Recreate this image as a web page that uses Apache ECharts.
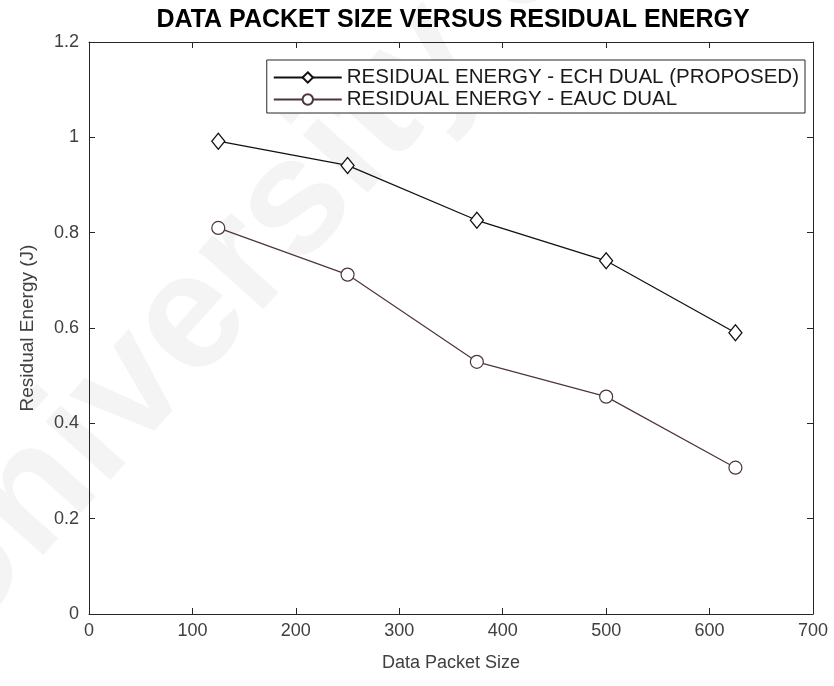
<!DOCTYPE html>
<html>
<head>
<meta charset="utf-8">
<title>Data Packet Size versus Residual Energy</title>
<script src="https://cdn.jsdelivr.net/npm/echarts@6/dist/echarts.min.js"></script>
<style>
  html, body { margin: 0; padding: 0; background: #ffffff; }
  #chart { width: 834px; height: 686px; }
</style>
</head>
<body>
<div id="chart"></div>
<script>
// Packet sizes on the x axis
const packetSizes = [125, 250, 375, 500, 625];
// Residual energy (J) per scheme
const echDual = [0.992, 0.941, 0.826, 0.741, 0.590];
const eaucDual = [0.810, 0.712, 0.529, 0.456, 0.307];
// Series names shown in the legend
const seriesNames = ['RESIDUAL ENERGY - ECH DUAL (PROPOSED)', 'RESIDUAL ENERGY - EAUC DUAL'];
// Axis ranges and tick steps
const xRange = [0, 700, 100];
const yRange = [0, 1.2, 0.2];

const FONT = '"Liberation Sans", Arial, Helvetica, sans-serif';
const AXIS_COLOR = '#262626';
const LABEL_COLOR = '#404040';

const chart = echarts.init(document.getElementById('chart'), null, { renderer: 'canvas' });

const pairs = (xs, ys) => xs.map((x, i) => [x, ys[i]]);

// Boxed axes with inward ticks on all four sides
const boxAxis = (extra) => Object.assign({
  type: 'value',
  axisLine: { show: true, onZero: false, lineStyle: { color: AXIS_COLOR, width: 1 } },
  axisTick: { show: true, inside: true, length: 6, lineStyle: { color: AXIS_COLOR } },
  splitLine: { show: false }
}, extra);

chart.setOption({
  animation: false,
  backgroundColor: '#ffffff',
  textStyle: { fontFamily: FONT },
  title: {
    text: 'DATA PACKET SIZE VERSUS RESIDUAL ENERGY',
    left: 448, top: 3, textAlign: 'center',
    textStyle: { fontFamily: FONT, fontWeight: 'bold', fontSize: 25, color: '#000000' }
  },
  graphic: [{
    type: 'text',
    z: -1,
    x: -78, y: 622,
    rotation: 0.84,
    style: {
      text: 'University of Malaya',
      font: 'bold 165px ' + FONT,
      fill: 'rgba(0,0,0,0.045)',
      textVerticalAlign: 'middle'
    }
  }],
  legend: {
    orient: 'vertical',
    right: 29, top: 60,
    backgroundColor: '#ffffff',
    borderColor: AXIS_COLOR, borderWidth: 1,
    padding: [7, 6, 3, 6],
    itemGap: 1,
    itemWidth: 68, itemHeight: 13,
    textStyle: { fontFamily: FONT, fontSize: 20.5, color: '#1a1a1a' },
    data: seriesNames
  },
  grid: { left: 89, right: 21, top: 42, bottom: 72, containLabel: false },
  xAxis: [
    boxAxis({
      min: xRange[0], max: xRange[1], interval: xRange[2],
      position: 'bottom',
      name: 'Data Packet Size', nameLocation: 'middle', nameGap: 40,
      nameTextStyle: { fontFamily: FONT, fontSize: 18, color: LABEL_COLOR },
      axisLabel: { margin: 8, fontFamily: FONT, fontSize: 18, color: LABEL_COLOR }
    }),
    boxAxis({
      min: xRange[0], max: xRange[1], interval: xRange[2],
      position: 'top', axisLabel: { show: false }
    })
  ],
  yAxis: [
    boxAxis({
      min: yRange[0], max: yRange[1], interval: yRange[2],
      position: 'left',
      name: 'Residual Energy (J)', nameLocation: 'middle', nameGap: 52, nameRotate: 90,
      nameTextStyle: { fontFamily: FONT, fontSize: 19, color: LABEL_COLOR },
      axisLabel: { margin: 10, fontFamily: FONT, fontSize: 18, color: LABEL_COLOR }
    }),
    boxAxis({
      min: yRange[0], max: yRange[1], interval: yRange[2],
      position: 'right', axisLabel: { show: false }
    })
  ],
  series: [
    {
      name: seriesNames[0],
      type: 'line',
      data: pairs(packetSizes, echDual),
      symbol: 'diamond', symbolSize: [13, 16],
      lineStyle: { color: '#111111', width: 1.3 },
      itemStyle: { color: '#ffffff', borderColor: '#111111', borderWidth: 1.3 },
      z: 3
    },
    {
      name: seriesNames[1],
      type: 'line',
      data: pairs(packetSizes, eaucDual),
      symbol: 'circle', symbolSize: 13,
      lineStyle: { color: '#4e353c', width: 1.2 },
      itemStyle: { color: '#ffffff', borderColor: '#4e353c', borderWidth: 1.2 },
      z: 2
    }
  ]
});
</script>
</body>
</html>
